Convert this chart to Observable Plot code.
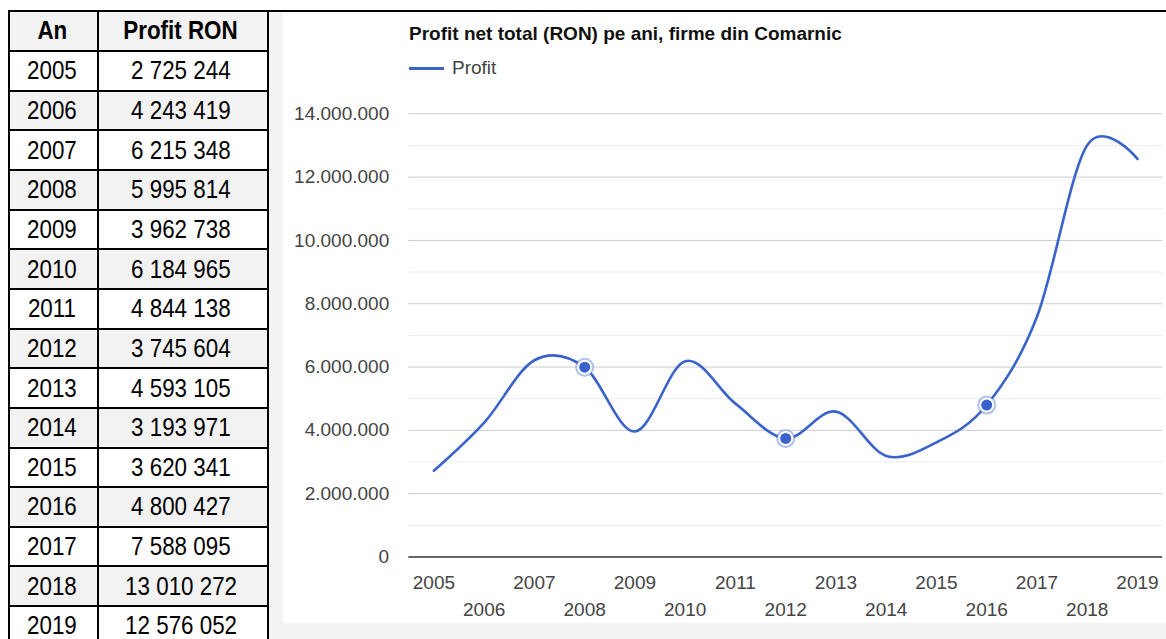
<!DOCTYPE html>
<html>
<head>
<meta charset="utf-8">
<script src="https://cdn.jsdelivr.net/npm/d3@7"></script>
<script src="https://cdn.jsdelivr.net/npm/@observablehq/plot@0.6"></script>
<style>
  html, body { margin: 0; padding: 0; }
  body { width: 1166px; height: 639px; position: relative; overflow: hidden; background: #ffffff; font-family: "Liberation Sans", Arial, sans-serif; }
  .abs { position: absolute; }
  .hline { position: absolute; height: 2px; background: #000; }
  .vline { position: absolute; width: 2px; background: #000; }
  .cell { position: absolute; display: flex; align-items: center; justify-content: center; font-size: 26px; color: #000; }
  .cell span { display: inline-block; transform: scaleX(0.86); white-space: nowrap; }
  .hdr { font-weight: bold; }
  #gutter { left: 268px; top: 11.5px; width: 898px; height: 628px; background: #f3f3f3; }
  #chart { left: 283px; top: 12px; width: 883px; height: 611px; background: #ffffff; }
  #title { position: absolute; left: 126px; top: 10.5px; font-size: 19px; font-weight: bold; color: #111; white-space: nowrap; }
  #legend-line { position: absolute; left: 126px; top: 55px; width: 35px; height: 2.5px; background: #3a62cc; }
  #legend-text { position: absolute; left: 169px; top: 45px; font-size: 19px; color: #444; }
  #plot { position: absolute; left: 0; top: 0; }
</style>
</head>
<body>
<div id="gutter" class="abs"></div>
<div id="table"></div>
<div class="hline" style="left:7.5px; top:9.5px; width:1158.5px;"></div>
<div id="chart" class="abs">
  <div id="title">Profit net total (RON) pe ani, firme din Comarnic</div>
  <div id="legend-line"></div>
  <div id="legend-text">Profit</div>
  <div id="plot"></div>
</div>
<script>
// ---- Data ----
const years = [2005, 2006, 2007, 2008, 2009, 2010, 2011, 2012, 2013, 2014, 2015, 2016, 2017, 2018, 2019];
const profit = [2725244, 4243419, 6215348, 5995814, 3962738, 6184965, 4844138, 3745604, 4593105, 3193971, 3620341, 4800427, 7588095, 13010272, 12576052];
const highlightYears = [2008, 2012, 2016];
const yMajorTicks = [0, 2000000, 4000000, 6000000, 8000000, 10000000, 12000000, 14000000];
const yMinorTicks = [1000000, 3000000, 5000000, 7000000, 9000000, 11000000, 13000000];
const xTicksUpper = [2005, 2007, 2009, 2011, 2013, 2015, 2017, 2019];
const xTicksLower = [2006, 2008, 2010, 2012, 2014, 2016, 2018];
const tableHeaders = ["An", "Profit RON"];

const data = years.map((y, i) => ({year: y, profit: profit[i]}));
const highlighted = data.filter(d => highlightYears.includes(d.year));

// ---- Table ----
const table = document.getElementById("table");
const colX = [7.5, 96.8, 267];
const headerTop = 9.5, headerBottom = 50, rowH = 39.65;
function add(cls, style, html) {
  const el = document.createElement("div");
  el.className = cls;
  Object.assign(el.style, style);
  if (html != null) el.innerHTML = html;
  table.appendChild(el);
  return el;
}
const fmtSpace = v => d3.format(",")(v).replace(/,/g, " ");
const rows = [tableHeaders].concat(years.map((y, i) => [String(y), fmtSpace(profit[i])]));
rows.forEach((r, i) => {
  const top = i === 0 ? headerTop + 2 : headerBottom + 2 + (i - 1) * rowH;
  const h = i === 0 ? headerBottom - headerTop - 2 : rowH - 2;
  const bg = (i === 0 || i % 2 === 0) ? "#f2f2f2" : "#ffffff";
  add("abs", {left: (colX[0] + 2) + "px", top: top + "px", width: (colX[2] - colX[0] - 2) + "px", height: h + "px", background: bg});
  for (let c = 0; c < 2; c++) {
    add("cell" + (i === 0 ? " hdr" : ""), {
      left: (colX[c] + 2) + "px", top: top + "px",
      width: (colX[c + 1] - colX[c] - 2 - (c === 1 ? 4 : 2)) + "px", height: h + "px"
    }, "<span>" + r[c] + "</span>");
  }
  add("hline", {left: colX[0] + "px", top: (i === 0 ? headerBottom : headerBottom + i * rowH) + "px", width: (colX[2] - colX[0] + 2) + "px"});
});
colX.forEach(x => add("vline", {left: x + "px", top: headerTop + "px", height: (639 - headerTop) + "px"}));

// ---- Chart ----
const blue = "#3a62cc";
const dotFmt = v => d3.format(",")(v).replace(/,/g, ".");
const chart = Plot.plot({
  width: 883,
  height: 611,
  marginLeft: 125.3,
  marginRight: 3.9,
  marginTop: 101.3,
  marginBottom: 66.5,
  style: {background: "transparent", fontFamily: "Liberation Sans, Arial, sans-serif", fontSize: "19px", color: "#444"},
  x: {domain: [2004.5, 2019.5], label: null},
  y: {domain: [0, 14000000], label: null},
  marks: [
    Plot.ruleY(yMinorTicks, {stroke: "#ebebeb", strokeWidth: 1}),
    Plot.ruleY(yMajorTicks.filter(d => d > 0), {stroke: "#cccccc", strokeWidth: 1}),
    Plot.ruleY([0], {stroke: "#333333", strokeWidth: 1.6}),
    Plot.axisY({ticks: yMajorTicks, tickSize: 0, tickPadding: 19.6, tickFormat: dotFmt, fill: "#444", fontSize: 19, label: null}),
    Plot.axisX({ticks: xTicksUpper, tickSize: 0, tickPadding: 18, tickFormat: d => String(d), fill: "#444", fontSize: 19, label: null}),
    Plot.axisX({ticks: xTicksLower, tickSize: 0, tickPadding: 45, tickFormat: d => String(d), fill: "#444", fontSize: 19, label: null}),
    Plot.line(data, {x: "year", y: "profit", curve: "cardinal", stroke: blue, strokeWidth: 2.6}),
    Plot.dot(highlighted, {x: "year", y: "profit", r: 8.5, fill: "white", stroke: blue, strokeOpacity: 0.4, strokeWidth: 2}),
    Plot.dot(highlighted, {x: "year", y: "profit", r: 5.5, fill: blue})
  ]
});
document.getElementById("plot").appendChild(chart);
</script>
</body>
</html>
